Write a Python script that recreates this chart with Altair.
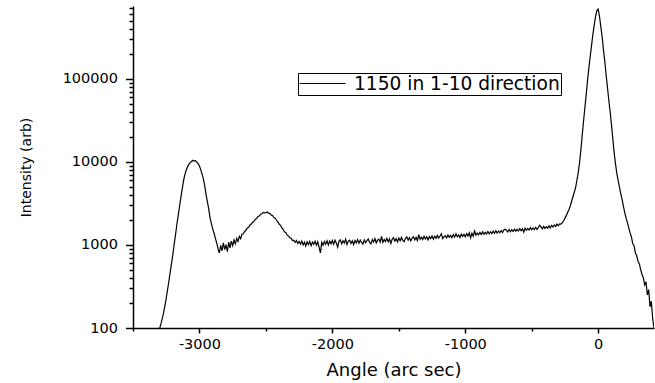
import altair as alt
import pandas as pd

# ---- data (intensity every 10 arc sec) ----
seg1_start = -3320  # -3320 .. -2000
seg1 = [
    70, 92, 98, 112, 130, 152, 185, 228, 290, 365,
    470, 600, 770, 1020, 1330, 1760, 2250, 2900, 3700, 4700,
    5900, 7000, 7900, 8700, 9300, 9800, 10100, 10450, 10200, 10300,
    9900, 9500, 8900, 8000, 7100, 6200, 5100, 4000, 3300, 2700,
    2100, 1800, 1550, 1380, 1200, 1050, 900, 800, 990, 850,
    1060, 880, 1010, 830, 1080, 920, 1110, 980, 1150, 1030,
    1200, 1100, 1270, 1190, 1350, 1360, 1450, 1500, 1600, 1630,
    1740, 1780, 1870, 1910, 2040, 2080, 2200, 2230, 2340, 2370,
    2460, 2430, 2450, 2490, 2390, 2400, 2280, 2260, 2130, 2100,
    1980, 1890, 1780, 1720, 1600, 1540, 1430, 1410, 1310, 1280,
    1220, 1200, 1130, 1140, 1070, 1130, 1040, 1100, 1020, 1110,
    1000, 1080, 970, 1090, 1010, 1100, 980, 1080, 1020, 1110,
    990, 1090, 940, 800, 1070, 990, 1100, 1020, 1120, 1000,
    1110, 1030, 1130,
]
seg2_start = -1990  # -1990 .. -290
seg2 = [
    1020, 1140, 1050, 940, 1110, 1150, 1030, 1120, 1050, 1170,
    1010, 1110, 1140, 1040, 1120, 1010, 1130, 1060, 1160, 1050,
    1140, 1070, 1020, 1150, 1060, 1130, 1180, 1070, 1030, 1160,
    1080, 1190, 1060, 1140, 1170, 1080, 1270, 1070, 1160, 1100,
    1200, 1090, 1180, 1040, 1170, 1220, 1110, 1190, 1090, 1210,
    1120, 1230, 1130, 1090, 1200, 1250, 1140, 1220, 1120, 1210,
    1250, 1150, 1230, 1130, 1330, 1170, 1240, 1160, 1270, 1180,
    1250, 1150, 1260, 1190, 1280, 1170, 1270, 1200, 1300, 1210,
    1280, 1360, 1190, 1260, 1290, 1210, 1320, 1230, 1300, 1220,
    1330, 1240, 1360, 1250, 1320, 1230, 1350, 1270, 1340, 1250,
    1370, 1280, 1400, 1220, 1380, 1270, 1470, 1310, 1390, 1320,
    1410, 1330, 1440, 1340, 1420, 1350, 1450, 1360, 1440, 1370,
    1460, 1380, 1480, 1390, 1470, 1400, 1490, 1410, 1510, 1540,
    1500, 1430, 1530, 1440, 1520, 1450, 1550, 1460, 1540, 1470,
    1570, 1480, 1560, 1420, 1590, 1500, 1580, 1510, 1610, 1520,
    1600, 1530, 1630, 1540, 1620, 1720, 1650, 1560, 1670, 1580,
    1660, 1590, 1700, 1600, 1720, 1640, 1740, 1670, 1780, 1700,
    1790,
]
seg3_start = -280  # -280 .. 420
seg3 = [
    1780, 1850, 1950, 2100, 2250, 2450, 2650, 2950, 3350, 3800,
    4300, 4900, 6000, 7400, 9800, 14000, 21000, 31000, 45000, 65000,
    95000, 135000, 185000, 250000, 340000, 440000, 560000, 660000, 690000, 560000,
    420000, 320000, 220000, 160000, 110000, 78000, 55000, 40000, 28000, 19000,
    13000, 9500, 7300, 6000, 5000, 4100, 3500, 2900, 2450, 2100,
    1850, 1600, 1400, 1250, 1040, 980, 800, 740, 630, 590,
    500, 440, 400, 330, 360, 250, 290, 180, 210, 130,
    100,
]
series_name = "1150 in 1-10 direction"

y_major = [100, 1000, 10000, 100000]
y_minor = [m * d for d in [100, 1000, 10000, 100000] for m in range(2, 10)
           if m * d <= 750000]
x_ticks = [-3500, -3000, -2500, -2000, -1500, -1000, -500, 0]

rows = []
for start, seg in [(seg1_start, seg1), (seg2_start, seg2), (seg3_start, seg3)]:
    for i, v in enumerate(seg):
        rows.append({"angle": start + 10 * i, "intensity": v, "series": series_name})
df = pd.DataFrame(rows)

FONT = "DejaVu Sans"

line = alt.Chart(df).mark_line(strokeWidth=1.2, clip=True).encode(
    x=alt.X(
        "angle:Q",
        scale=alt.Scale(domain=[-3500, 420], nice=False, zero=False),
        axis=alt.Axis(
            values=x_ticks,
            title="Angle (arc sec)",
            labelExpr="datum.value % 1000 === 0 ? '' + datum.value : ''",
            tickSize={"condition": {"test": "datum.value % 1000 === 0", "value": 5}, "value": 3},
            labelPadding=4,
            labelOverlap=False,
            labelFlush=False,
            titlePadding=11,
            titleFontSize=18,
        ),
    ),
    y=alt.Y(
        "intensity:Q",
        scale=alt.Scale(type="log", domain=[100, 750000], nice=False),
        axis=alt.Axis(
            values=y_major + y_minor,
            title="Intensity (arb)",
            labelExpr="indexof([100,1000,10000,100000], datum.value) >= 0 ? '' + datum.value : ''",
            tickSize={"condition": {"test": "indexof([100,1000,10000,100000], datum.value) >= 0", "value": 7.5}, "value": 4},
            labelPadding=8,
            labelOverlap=False,
            labelFlush=False,
            titlePadding=29,
            titleFontSize=14,
        ),
    ),
    color=alt.Color(
        "series:N",
        scale=alt.Scale(range=["black"]),
        legend=alt.Legend(
            title=None,
            orient="none",
            legendX=165,
            legendY=67,
            symbolType="stroke",
            symbolSize=2116,
            symbolStrokeWidth=1,
            strokeColor="black",
            fillColor="white",
            padding=1,
            clipHeight=19,
            labelLimit=0,
            labelFont=FONT,
            labelFontSize=18.6,
            labelColor="black",
            labelOffset=8,
        ),
    ),
)

chart = line.properties(
    width=521,
    height=322,
    autosize=alt.AutoSizeParams(type="none"),
    padding={"left": 133, "top": 6, "right": 1, "bottom": 55},
    background="white",
).configure_view(stroke=None).configure_axis(
    grid=False,
    domainColor="black",
    domainWidth=1.5,
    tickColor="black",
    tickWidth=1.5,
    labelFont=FONT,
    labelFontSize=14.5,
    labelColor="black",
    titleFont=FONT,
    titleFontWeight="normal",
    titleColor="black",
)

chart.save("out.html", embed_options={"renderer": "svg", "actions": False})
